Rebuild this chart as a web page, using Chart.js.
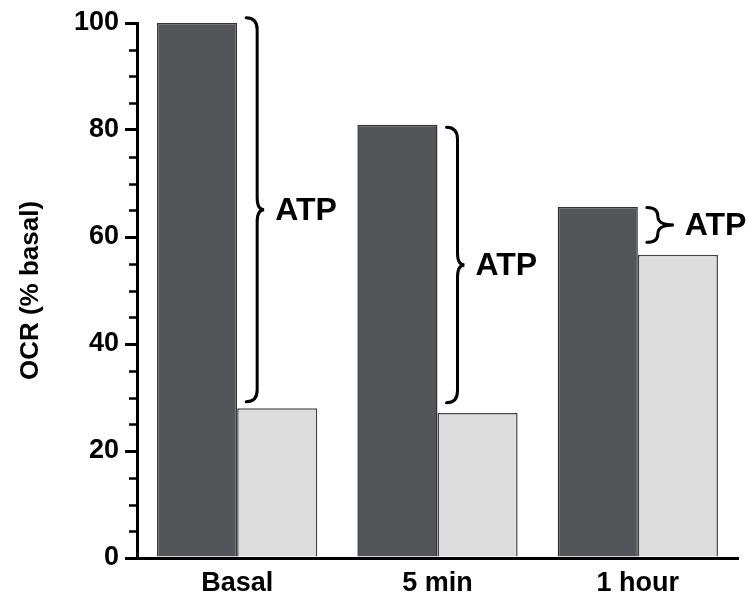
<!DOCTYPE html>
<html>
<head>
<meta charset="utf-8">
<script src="https://cdn.jsdelivr.net/npm/chart.js@4.4.0/dist/chart.umd.min.js"></script>
<style>
  html, body { margin: 0; padding: 0; background: #fff; }
  #wrap { width: 753px; height: 593px; }
</style>
</head>
<body>
<div id="wrap"><canvas id="ocr"></canvas></div>
<script>
// values
const categories = ["Basal", "5 min", "1 hour"];
const totalOCR = [100, 81, 65.6];      // dark bars
const oligoOCR = [28, 27.1, 56.7];     // light bars
const braceTop = [101, 80.5, 65.5];
const braceBottom = [29.2, 29, 59];
const braceLabels = ["ATP", "ATP", "ATP"];
const minorTicks = [5, 10, 15, 25, 30, 35, 45, 50, 55, 65, 70, 75, 85, 90, 95];

// small minor ticks between the labelled ones
const minorTickPlugin = {
  id: "minorTicks",
  afterDraw(chart) {
    const ctx = chart.ctx;
    const y = chart.scales.y;
    const left = chart.chartArea.left;
    ctx.save();
    ctx.strokeStyle = "#000";
    ctx.lineWidth = 2.5;
    minorTicks.forEach((v) => {
      const py = Math.round(y.getPixelForValue(v)) + 0.5;
      ctx.beginPath();
      ctx.moveTo(left - 8, py);
      ctx.lineTo(left, py);
      ctx.stroke();
    });
    ctx.restore();
  },
};

// curly braces with "ATP" to the right of each dark bar
const bracePlugin = {
  id: "braces",
  afterDatasetsDraw(chart) {
    const ctx = chart.ctx;
    const y = chart.scales.y;
    const meta = chart.getDatasetMeta(0);
    ctx.save();
    ctx.strokeStyle = "#000";
    ctx.lineWidth = 3;
    ctx.lineCap = "round";
    ctx.fillStyle = "#000";
    ctx.font = "bold 32px 'Liberation Sans', Arial, sans-serif";
    ctx.textBaseline = "middle";
    meta.data.forEach((bar, i) => {
      const x0 = bar.x + bar.width / 2 + 9;
      const top = y.getPixelForValue(braceTop[i]);
      const bot = y.getPixelForValue(braceBottom[i]);
      const mid = (top + bot) / 2;
      const h = bot - top;
      const k = Math.min(12, h / 4);
      const x1 = x0 + 11;
      const tip = h < 60 ? 16 : 7;
      const x2 = x1 + tip;
      ctx.beginPath();
      ctx.moveTo(x0, top);
      ctx.quadraticCurveTo(x1, top, x1, top + k);
      ctx.lineTo(x1, mid - k);
      ctx.quadraticCurveTo(x1, mid, x2, mid);
      ctx.quadraticCurveTo(x1, mid, x1, mid + k);
      ctx.lineTo(x1, bot - k);
      ctx.quadraticCurveTo(x1, bot, x0, bot);
      ctx.stroke();
      ctx.fillText(braceLabels[i], x2 + 11, mid + 1);
    });
    ctx.restore();
  },
};

new Chart(document.getElementById("ocr"), {
  type: "bar",
  data: {
    labels: categories,
    datasets: [
      {
        label: "OCR",
        data: totalOCR,
        backgroundColor: "#545558",
        borderColor: "#333333",
        borderWidth: 1.5,
      },
      {
        label: "Oligomycin",
        data: oligoOCR,
        backgroundColor: "#dcdddc",
        borderColor: "#444444",
        borderWidth: 1.5,
      },
    ],
  },
  options: {
    responsive: true,
    maintainAspectRatio: false,
    animation: false,
    layout: { padding: { top: 23, right: 15, bottom: 0, left: 1 } },
    datasets: { bar: { categoryPercentage: 0.8, barPercentage: 1.0 } },
    plugins: {
      legend: { display: false },
      tooltip: { enabled: false },
    },
    scales: {
      x: {
        grid: { display: false },
        border: { display: true, color: "#000", width: 3 },
        ticks: {
          color: "#000",
          padding: 1,
          font: { family: "'Liberation Sans', Arial, sans-serif", size: 27, weight: "bold" },
        },
        afterFit(scale) { scale.height = 35; },
      },
      y: {
        min: 0,
        max: 100,
        ticks: {
          stepSize: 20,
          color: "#000",
          padding: 6,
          font: { family: "'Liberation Sans', Arial, sans-serif", size: 27, weight: "bold" },
        },
        grid: { drawOnChartArea: false, drawTicks: true, tickLength: 12, color: "#000", lineWidth: 3 },
        border: { display: true, color: "#000", width: 3 },
        title: {
          display: true,
          text: "OCR (% basal)",
          color: "#000",
          padding: { top: 14, bottom: 0 },
          font: { family: "'Liberation Sans', Arial, sans-serif", size: 26, weight: "bold" },
        },
        afterFit(scale) { scale.width = 136; },
      },
    },
  },
  plugins: [minorTickPlugin, bracePlugin],
});
</script>
</body>
</html>
